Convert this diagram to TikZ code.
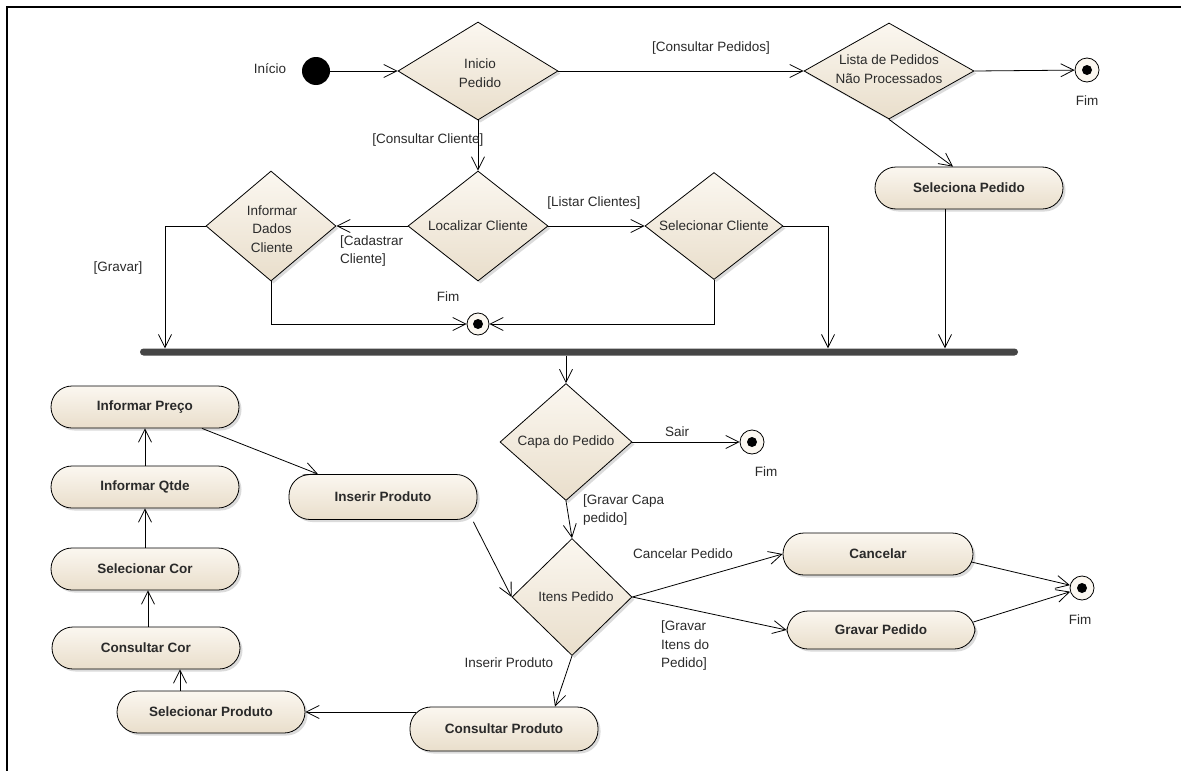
\documentclass[tikz,border=0pt]{standalone}
\usepackage{fontspec}
\setmainfont{Liberation Sans}
\usetikzlibrary{arrows.meta,shapes.geometric,shadows}
\definecolor{beigeL}{HTML}{FBF7F0}
\definecolor{beigeD}{HTML}{E9DECB}
\definecolor{inkc}{HTML}{2A2A2A}
\definecolor{barc}{HTML}{454545}

\begin{document}
\begin{tikzpicture}[x=1pt,y=-1pt,
  every node/.style={font=\fontsize{13.5}{18.5}\selectfont, text=inkc},
  shadebox/.style={top color=beigeL, bottom color=beigeD, draw=black, line width=0.8pt,
    drop shadow={shadow xshift=2.5pt, shadow yshift=-2.5pt, fill=black!28}},
  act/.style={shadebox, rounded corners=21pt, minimum width=188pt, minimum height=42pt,
    inner sep=0pt, font=\bfseries\fontsize{13.5}{16}\selectfont},
  dec/.style 2 args={shadebox, diamond, minimum width=#1pt, minimum height=#2pt, inner sep=0pt},
  dectext/.style={align=center},
  startnode/.style={circle, fill=black, minimum size=28pt, inner sep=0pt},
  fin/.style={circle, draw=black, line width=0.8pt, fill=beigeL, minimum size=24pt, inner sep=0pt,
    path picture={\fill[black] (path picture bounding box.center) circle (5pt);}},
  flow/.style={draw=black, line width=0.8pt, -{Straight Barb[length=13pt,width=13pt]}},
  lbl/.style={inner sep=1pt}
]
\useasboundingbox (0,0) rectangle (1181,771);
\fill[white] (0,0) rectangle (1181,771);
% frame
\draw[line width=2.5pt] (7,771) -- (7,7) -- (1181,7);

% ---- top part
\node[startnode] (ini) at (316,71) {};
\node[lbl] (inilbl) at (270,69) {Início};

\node[dec={160}{98}] (d1) at (478,71) {};
\node[dectext] (d1t) at (480,73) {Inicio\\Pedido};

\node[dec={170}{96}] (d2) at (889,71) {};
\node[dectext] (d2t) at (889,69) {Lista de Pedidos\\Não Processados};

\node[fin] (fim1) at (1087,70) {};
\node[lbl] (fim1l) at (1087,101) {Fim};

\node[act] (act1) at (969,188) {Seleciona Pedido};

\node[dec={140}{110}] (d3) at (478,226) {};
\node[dectext] (d3t) at (478,226) {Localizar Cliente};

\node[dec={130}{110}] (d4) at (271,226) {};
\node[dectext] (d4t) at (272,229) {Informar\\Dados\\Cliente};

\node[dec={138}{107}] (d5) at (714,226) {};
\node[dectext] (d5t) at (714,226) {Selecionar Cliente};

\node[fin, minimum size=22pt] (fim2) at (478,324) {};
\node[lbl] (fim2l) at (448,297) {Fim};

% synchronisation bar
\node[fill=barc, rounded corners=3.5pt, minimum width=878pt, minimum height=7pt, inner sep=0pt] (bar) at (579,352) {};

\coordinate (lx) at (165,0);
\coordinate (rx) at (828,0);

% ---- lower part
\node[dec={132}{117}] (d6) at (566,442) {};
\node[dectext] (d6t) at (566,442) {Capa do Pedido};

\node[fin] (fim3) at (752,442) {};
\node[lbl] (fim3l) at (766,472) {Fim};

\node[dec={120}{117}] (d7) at (572,597) {};
\node[dectext] (d7t) at (576,597) {Itens Pedido};

\node[act, minimum width=190pt] (c1) at (878,554) {Cancelar};
\node[act, minimum height=38pt] (c2) at (881,630) {Gravar Pedido};

\node[fin] (fim4) at (1082,588) {};
\node[lbl] (fim4l) at (1080,620) {Fim};

\node[act, minimum height=44pt] (cp) at (504,729) {Consultar Produto};
\node[act] (sp) at (211,712) {Selecionar Produto};
\node[act] (cc) at (146,648) {Consultar Cor};
\node[act] (scor) at (145,569) {Selecionar Cor};
\node[act] (qt) at (145,487) {Informar Qtde};
\node[act] (pr) at (145,407) {Informar Preço};
\node[act, minimum height=45pt] (ip) at (383,497) {Inserir Produto};

% ---- connectors
\draw[flow] (ini) -- (d1.west);
\draw[flow] (d1.east) -- (d2.west);
\draw[flow] (d2.east) -- (fim1);
\draw[flow] (d2.south) -- ([xshift=-16pt]act1.north);
\draw[flow] ([xshift=-24pt]act1.south) -- ([xshift=-24pt]act1.south |- bar.north);
\draw[flow] (d1.south) -- (d3.north);
\draw[flow] (d3.west) -- (d4.east);
\draw[flow] (d3.east) -- (d5.west);
\draw[flow] (d5.east) -| (rx |- bar.north);
\draw[flow] (d5.south) |- (fim2.east);
\draw[flow] (d4.south) |- (fim2.west);
\draw[flow] (d4.west) -| (lx |- bar.north);

\draw[flow] (d6.north |- bar.south) -- (d6.north);
\draw[flow] (d6.east) -- (fim3);
\draw[flow] (d6.south) -- (d7.north);
\draw[flow] (d7.east) -- (c1.west);
\draw[flow] (d7.east) -- (c2.west);
\draw[flow] ([shift={(-2pt,-8pt)}]c1.east) -- (fim4);
\draw[flow] ([shift={(-2pt,8pt)}]c2.east) -- (fim4);
\draw[flow] (d7.south) -- ([xshift=51pt]cp.north);
\draw[flow] ([xshift=6pt]cp.west |- sp.east) -- (sp.east);
\draw[flow] ([xshift=-31pt]sp.north) -- ([xshift=-31pt]sp.north |- cc.south);
\draw[flow] ([xshift=2pt]cc.north) -- ([xshift=2pt]cc.north |- scor.south);
\draw[flow] (scor.north) -- (qt.south);
\draw[flow] (qt.north) -- (pr.south);
\draw[flow] ([xshift=57pt]pr.south) -- ([xshift=-65pt]ip.north);
\draw[flow] ([shift={(-4pt,-2pt)}]ip.south east) -- (d7.west);

% ---- guard labels
\node[lbl] (g1) at (711,48) {[Consultar Pedidos]};
\node[lbl] (g2) at (428,140) {[Consultar Cliente]};
\node[lbl, anchor=west, align=left] (g3) at (339,251) {[Cadastrar\\Cliente]};
\node[lbl] (g4) at (594,203) {[Listar Clientes]};
\node[lbl] (g5) at (118,268) {[Gravar]};
\node[lbl] (g6) at (677,432) {Sair};
\node[lbl, anchor=west, align=left] (g7) at (582,510) {[Gravar Capa\\pedido]};
\node[lbl] (g8) at (683,554) {Cancelar Pedido};
\node[lbl, anchor=west, align=left] (g9) at (660,646) {[Gravar\\Itens do\\Pedido]};
\node[lbl] (g10) at (509,663) {Inserir Produto};
\end{tikzpicture}
\end{document}
